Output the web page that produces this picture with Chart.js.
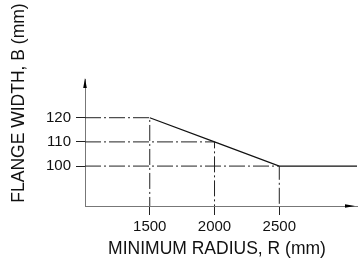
<!DOCTYPE html>
<html>
<head>
<meta charset="utf-8">
<script src="https://cdn.jsdelivr.net/npm/chart.js@4.4.1/dist/chart.umd.min.js"></script>
<style>
  html, body { margin: 0; padding: 0; background: #fff; }
  #chart { display: block; }
</style>
</head>
<body>
<canvas id="chart" width="359" height="264"></canvas>
<script>
// flange width vs minimum radius
const radius = [1500, 2000, 2500, 3100];
const flangeWidth = [120, 110, 100, 100];
const xTicks = [1500, 2000, 2500];
const yTicks = [100, 110, 120];
const xTitle = 'MINIMUM RADIUS, R (mm)';
const yTitle = 'FLANGE WIDTH, B (mm)';
const xMin = 1000, xMax = 3100;
const yMin = 83.5, yMax = 136;

const FONT = '"Liberation Sans", Arial, sans-serif';

// dash-dot guide lines: from the y axis over to the knee, then down to the x axis
const guides = xTicks.map((x, i) => ({
    data: [
        { x: xMin, y: flangeWidth[i] },
        { x: x, y: flangeWidth[i] },
        { x: x, y: yMin }
    ],
    borderColor: '#222',
    borderWidth: 1,
    borderDash: [16, 3, 2, 3],
    pointRadius: 0,
    fill: false
}));

const curve = {
    data: radius.map((r, i) => ({ x: r, y: flangeWidth[i] })),
    borderColor: '#111',
    borderWidth: 1.2,
    pointRadius: 0,
    fill: false
};

// arrow heads + axis titles
const extras = {
    id: 'extras',
    afterDraw(chart) {
        const ctx = chart.ctx;
        const a = chart.chartArea;
        ctx.save();
        ctx.fillStyle = '#000';
        // y arrow
        ctx.beginPath();
        ctx.moveTo(a.left, a.top - 1);
        ctx.lineTo(a.left - 1.8, a.top + 9);
        ctx.lineTo(a.left + 1.8, a.top + 9);
        ctx.closePath();
        ctx.fill();
        // x arrow
        ctx.beginPath();
        ctx.moveTo(a.right - 2, a.bottom);
        ctx.lineTo(a.right - 12, a.bottom - 1.8);
        ctx.lineTo(a.right - 12, a.bottom + 1.8);
        ctx.closePath();
        ctx.fill();

        ctx.fillStyle = '#111';
        ctx.font = '17.5px ' + FONT;
        ctx.textAlign = 'center';
        ctx.textBaseline = 'alphabetic';
        ctx.fillText(xTitle, 217, 254);
        ctx.translate(24, 103);
        ctx.rotate(-Math.PI / 2);
        ctx.fillText(yTitle, 0, 0);
        ctx.restore();
    }
};

const tickFont = { size: 15, family: FONT };

new Chart(document.getElementById('chart'), {
    type: 'line',
    data: { datasets: [...guides, curve] },
    options: {
        responsive: false,
        animation: false,
        devicePixelRatio: 1,
        layout: { padding: { left: 0, top: 79, right: 2, bottom: 0 } },
        plugins: { legend: { display: false }, tooltip: { enabled: false } },
        elements: { line: { tension: 0 } },
        scales: {
            x: {
                type: 'linear',
                min: xMin,
                max: xMax,
                afterBuildTicks: s => { s.ticks = xTicks.map(v => ({ value: v })); },
                afterFit: s => { s.height = 58; },
                border: { color: '#777', width: 1 },
                grid: { drawOnChartArea: false, drawTicks: true, tickLength: 9, color: '#222' },
                ticks: { color: '#111', font: tickFont, padding: 3, maxRotation: 0, callback: v => String(v) }
            },
            y: {
                type: 'linear',
                min: yMin,
                max: yMax,
                afterBuildTicks: s => { s.ticks = yTicks.map(v => ({ value: v })); },
                afterFit: s => { s.width = 85; },
                border: { color: '#777', width: 1 },
                grid: { drawOnChartArea: false, drawTicks: true, tickLength: 9, color: '#222' },
                ticks: { color: '#111', font: tickFont, padding: 5, callback: v => String(v) }
            }
        }
    },
    plugins: [extras]
});
</script>
</body>
</html>
